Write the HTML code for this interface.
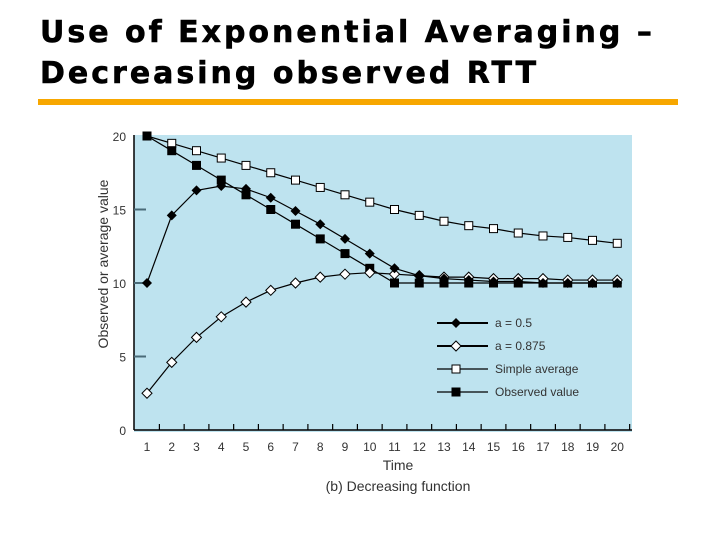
<!DOCTYPE html>
<html><head><meta charset="utf-8"><style>
body{margin:0;width:720px;height:540px;background:#fff;overflow:hidden;font-family:"Liberation Sans",sans-serif}
.t{position:absolute;left:40px;font-family:"DejaVu Sans","Liberation Sans",sans-serif;font-weight:bold;font-size:30px;letter-spacing:3px;color:#000;line-height:1;white-space:nowrap;-webkit-text-stroke:0.6px #000}
</style></head><body>
<div class="t" style="top:18px">Use of Exponential Averaging –</div>
<div class="t" style="top:59px">Decreasing observed RTT</div>
<div style="position:absolute;left:38px;top:99px;width:640px;height:6px;background:#f7a700"></div>
<svg id="c" width="720" height="540" style="position:absolute;left:0;top:0" font-family="Liberation Sans, sans-serif"></svg>
<script>
const times=[1,2,3,4,5,6,7,8,9,10,11,12,13,14,15,16,17,18,19,20];
const yTicks=[0,5,10,15,20];
const a05=[10,14.6,16.3,16.6,16.4,15.8,14.9,14,13,12,11,10.5,10.3,10.2,10.1,10.1,10,10,10,10];
const a0875=[2.5,4.6,6.3,7.7,8.7,9.5,10,10.4,10.6,10.7,10.6,10.5,10.4,10.4,10.3,10.3,10.3,10.2,10.2,10.2];
const simpleAvg=[20,19.5,19,18.5,18,17.5,17,16.5,16,15.5,15,14.6,14.2,13.9,13.7,13.4,13.2,13.1,12.9,12.7];
const observed=[20,19,18,17,16,15,14,13,12,11,10,10,10,10,10,10,10,10,10,10];
const svg=document.getElementById('c');const NS='http://www.w3.org/2000/svg';
function mk(t,a,p){const e=document.createElementNS(NS,t);for(const k in a)e.setAttribute(k,a[k]);(p||svg).appendChild(e);return e;}
const X=v=>147+(v-1)*24.75, Y=v=>430-v*14.7;
const bg=mk('rect',{x:134,y:135,width:498,height:297,fill:'#bee3ef'});


mk('line',{x1:134,y1:430,x2:632,y2:430,stroke:'#000','stroke-width':1.5});
mk('line',{x1:134,y1:135,x2:134,y2:430,stroke:'#000','stroke-width':1.5});
yTicks.forEach(v=>{const t=mk('text',{x:126,y:Y(v)+5,'text-anchor':'end','font-size':12,fill:'#333'});t.textContent=v;


if(v>0&&v<20)mk('line',{x1:134,y1:Y(v),x2:146,y2:Y(v),stroke:'#4a6b78','stroke-width':2});});
times.forEach(v=>{const t=mk('text',{x:X(v),y:451,'text-anchor':'middle','font-size':12,fill:'#333'});t.textContent=v;


mk('line',{x1:X(v)+12.4,y1:430,x2:X(v)+12.4,y2:424,stroke:'#000','stroke-width':1.2});});
const yt=mk('text',{x:108,y:264,transform:'rotate(-90 108 264)','text-anchor':'middle','font-size':14,fill:'#333'});yt.textContent='Observed or average value';


const xt=mk('text',{x:398,y:470,'text-anchor':'middle','font-size':14,fill:'#333'});xt.textContent='Time';


const cap=mk('text',{x:398,y:491,'text-anchor':'middle','font-size':14,fill:'#333'});cap.textContent='(b) Decreasing function';


function marker(x,y,type,g){
 if(type==='dia')return mk('polygon',{points:`${x},${y-5} ${x+5},${y} ${x},${y+5} ${x-5},${y}`,fill:'#000'},g);
 if(type==='odia')return mk('polygon',{points:`${x},${y-5} ${x+5},${y} ${x},${y+5} ${x-5},${y}`,fill:'#fff',stroke:'#000'},g);
 if(type==='osq')return mk('rect',{x:x-4,y:y-4,width:8,height:8,fill:'#fff',stroke:'#000'},g);
 return mk('rect',{x:x-4.5,y:y-4.5,width:9,height:9,fill:'#000'},g);}
const series=[[simpleAvg,'osq','series-simple-average'],[observed,'sq','series-observed-value'],[a0875,'odia','series-a-0875'],[a05,'dia','series-a-05']];
series.forEach(([d,m,n])=>{const g=mk('g',{});


mk('polyline',{points:d.map((v,i)=>X(times[i])+','+Y(v)).join(' '),fill:'none',stroke:'#000','stroke-width':1.2},g);
d.forEach((v,i)=>marker(X(times[i]),Y(v),m,g));});
const leg=[['a = 0.5','dia',323],['a = 0.875','odia',346],['Simple average','osq',369],['Observed value','sq',392]];
leg.forEach(([l,m,y])=>{const g=mk('g',{});


mk('line',{x1:437,y1:y,x2:488,y2:y,stroke:'#000','stroke-width':m.includes('dia')?2:1.2},g);
marker(456,y,m,g);const t=mk('text',{x:495,y:y+4,'font-size':12,fill:'#333'},g);t.textContent=l;});
</script>
</body></html>
